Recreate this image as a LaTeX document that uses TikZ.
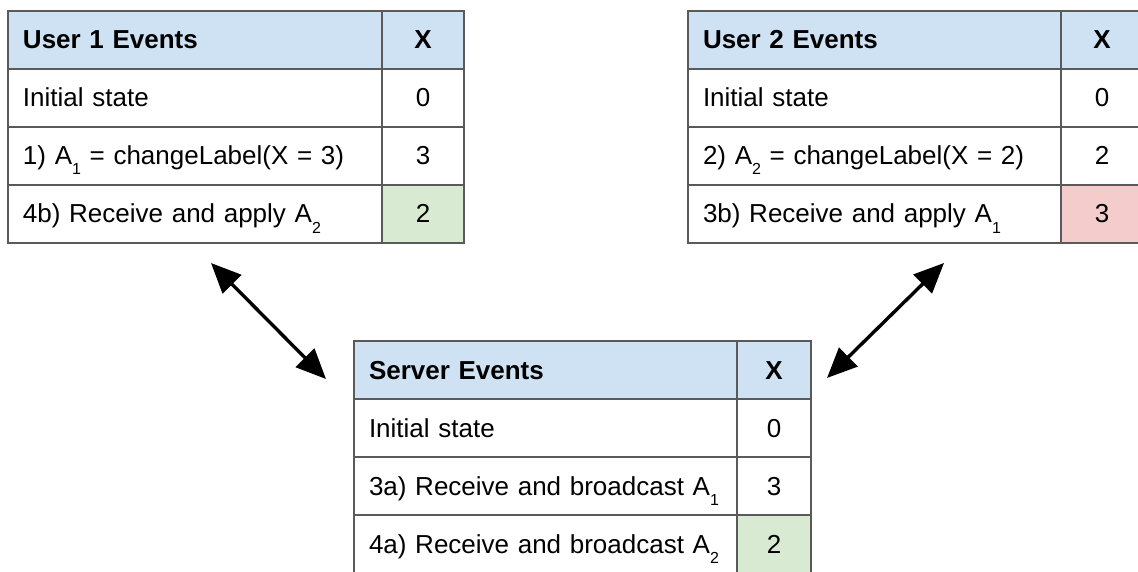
\documentclass[tikz,border=0pt]{standalone}
\usepackage{fontspec}
\setmainfont{Liberation Sans}
\usetikzlibrary{arrows.meta,positioning}

\definecolor{headblue}{RGB}{207,226,243}
\definecolor{okgreen}{RGB}{217,234,211}
\definecolor{badred}{RGB}{244,204,204}
\definecolor{gridgray}{RGB}{90,90,90}

\newcommand{\lowidx}[1]{\raisebox{-10pt}{\fontsize{16}{16}\selectfont #1}}

\tikzset{
	cell/.style={draw=gridgray, line width=1.3pt, minimum height=58pt, inner ysep=0pt,
		text height=22pt, text depth=4pt, outer sep=0pt, font=\fontsize{26}{30}\selectfont},
	evcell/.style={cell, inner xsep=15pt, text width=#1, align=left},
	valcell/.style={cell, inner xsep=0pt, minimum width=#1, align=center},
	headcell/.style={fill=headblue, font=\fontsize{26}{30}\selectfont\bfseries},
	syncarrow/.style={{Triangle[length=30pt,width=26pt]}-{Triangle[length=30pt,width=26pt]}, line width=3.4pt}
}

\begin{document}
\begin{tikzpicture}[x=1pt, y=-1pt]
		\clip (0, 0) rectangle (1138, 572);
		% Tabelle User 1
		\begin{scope}
			\node [evcell=344pt, headcell, anchor=north west] (u1h) at (8, 11) {User 1 Events};
			\node [evcell=344pt, below=0pt of u1h] (u1a) {Initial state};
			\node [evcell=344pt, below=0pt of u1a] (u1b) {1) A\lowidx{1} = changeLabel(X = 3)};
			\node [evcell=344pt, below=0pt of u1b] (u1c) {4b) Receive and apply A\lowidx{2}};
			\node [valcell=82pt, headcell, right=0pt of u1h] (u1hx) {X};
			\node [valcell=82pt, right=0pt of u1a] (u1ax) {0};
			\node [valcell=82pt, right=0pt of u1b] (u1bx) {3};
			\node [valcell=82pt, fill=okgreen, right=0pt of u1c] (u1cx) {2};
		\end{scope}
		% Tabelle User 2
		\begin{scope}
			\node [evcell=343pt, headcell, anchor=north west] (u2h) at (688, 11) {User 2 Events};
			\node [evcell=343pt, below=0pt of u2h] (u2a) {Initial state};
			\node [evcell=343pt, below=0pt of u2a] (u2b) {2) A\lowidx{2} = changeLabel(X = 2)};
			\node [evcell=343pt, below=0pt of u2b] (u2c) {3b) Receive and apply A\lowidx{1}};
			\node [valcell=82pt, headcell, right=0pt of u2h] (u2hx) {X};
			\node [valcell=82pt, right=0pt of u2a] (u2ax) {0};
			\node [valcell=82pt, right=0pt of u2b] (u2bx) {2};
			\node [valcell=82pt, fill=badred, right=0pt of u2c] (u2cx) {3};
		\end{scope}
		% Tabelle Server
		\begin{scope}
			\node [evcell=353pt, headcell, anchor=north west] (svh) at (354, 341) {Server Events};
			\node [evcell=353pt, below=0pt of svh] (sva) {Initial state};
			\node [evcell=353pt, below=0pt of sva] (svb) {3a) Receive and broadcast A\lowidx{1}};
			\node [evcell=353pt, below=0pt of svb] (svc) {4a) Receive and broadcast A\lowidx{2}};
			\node [valcell=74pt, headcell, right=0pt of svh] (svhx) {X};
			\node [valcell=74pt, right=0pt of sva] (svax) {0};
			\node [valcell=74pt, right=0pt of svb] (svbx) {3};
			\node [valcell=74pt, fill=okgreen, right=0pt of svc] (svcx) {2};
		\end{scope}
		% Pfeile
		\coordinate (u1end) at (211, 263);
		\coordinate (sv1end) at (326, 379);
		\coordinate (u2end) at (944, 263);
		\coordinate (sv2end) at (827, 378);
		\draw [syncarrow] (u1end) -- (sv1end);
		\draw [syncarrow] (u2end) -- (sv2end);
	\end{tikzpicture}
\end{document}
